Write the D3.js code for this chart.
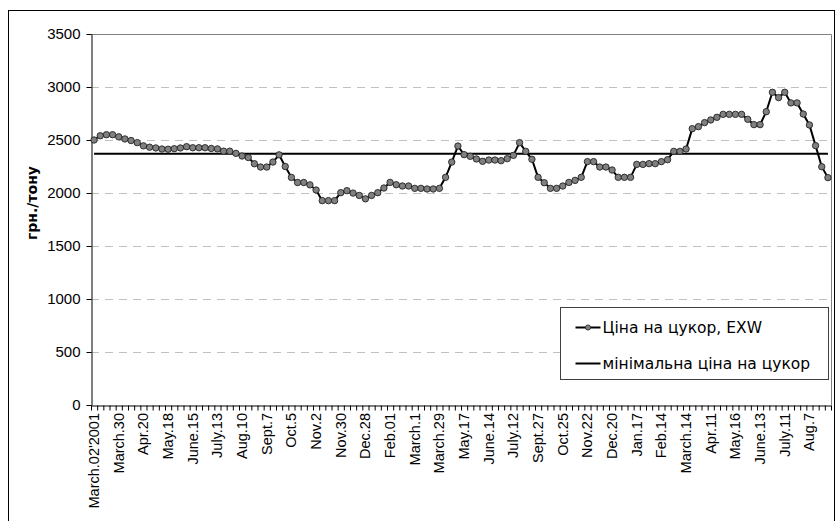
<!DOCTYPE html>
<html>
<head>
<meta charset="utf-8">
<script src="https://cdn.jsdelivr.net/npm/d3@7"></script>
<style>
  body { margin: 0; background: #fff; }
  svg { display: block; }
</style>
</head>
<body>
<div id="chart"></div>
<script>
// weekly sugar price, EXW (грн./тону), 120 weeks
const priceValues = [
  2500, 2540, 2550, 2550, 2530, 2510, 2495, 2475, 2445, 2432,
  2425, 2415, 2413, 2418, 2425, 2437, 2427, 2427, 2427, 2420,
  2416, 2395, 2394, 2374, 2349, 2335, 2276, 2245, 2245, 2292,
  2360, 2250, 2147, 2099, 2099, 2077, 2028, 1928, 1928, 1928,
  2003, 2022, 1999, 1977, 1945, 1977, 2003, 2047, 2100, 2078,
  2066, 2066, 2044, 2044, 2038, 2038, 2044, 2148, 2292, 2443,
  2362, 2346, 2321, 2299, 2311, 2311, 2305, 2324, 2355, 2475,
  2393, 2318, 2148, 2097, 2044, 2044, 2066, 2100, 2119, 2148,
  2296, 2296, 2245, 2245, 2217, 2148, 2148, 2148, 2270, 2270,
  2277, 2277, 2296, 2314, 2393, 2393, 2415, 2607, 2626, 2664,
  2689, 2714, 2742, 2742, 2742, 2742, 2695, 2645, 2645, 2767,
  2950, 2900, 2950, 2850, 2850, 2745, 2642, 2447, 2248, 2145
];
const minPrice = 2370;

// every 4th week is labelled
const tickLabels = [
  "March.02'2001", "March.30", "Apr.20", "May.18", "June.15", "July.13",
  "Aug.10", "Sept.7", "Oct.5", "Nov.2", "Nov.30", "Dec.28", "Feb.01",
  "March.1", "March.29", "May.17", "June.14", "July.12", "Sept.27",
  "Oct.25", "Nov.22", "Dec.20", "Jan.17", "Feb.14", "March.14", "Apr.11",
  "May.16", "June.13", "July.11", "Aug.7"
];
const yTicks = [0, 500, 1000, 1500, 2000, 2500, 3000, 3500];

const seriesNames = ["Ціна на цукор, EXW", "мінімальна ціна на цукор"];

const W = 836, H = 521;
const plot = { left: 91, right: 831, top: 34, bottom: 405 };
const LABEL_FONT = "'Liberation Sans', Arial, sans-serif";
const LEGEND_FONT = "'DejaVu Sans', Verdana, sans-serif";

const svg = d3.select("#chart").append("svg")
  .attr("width", W).attr("height", H);

// outer chart border
svg.append("rect")
  .attr("x", 8.5).attr("y", 10.5)
  .attr("width", 826).attr("height", 530)
  .attr("fill", "#fff").attr("stroke", "#000").attr("stroke-width", 1);

const n = priceValues.length;
const x = d3.scaleBand().domain(d3.range(n)).range([plot.left, plot.right]).padding(0);
const xEdge = d3.scaleLinear().domain([0, n]).range([plot.left, plot.right]);
const y = d3.scaleLinear().domain([0, 3500]).range([plot.bottom, plot.top]);
const cx = i => x(i) + x.bandwidth() / 2;

// plot area frame (top/right grey)
svg.append("path")
  .attr("d", `M${plot.left},${y(3500) + 0.5}H${plot.right + 0.5}V${plot.bottom}`)
  .attr("fill", "none").attr("stroke", "#808080").attr("stroke-width", 1);

// gridlines
svg.append("g")
  .selectAll("line")
  .data(yTicks.filter(v => v > 0 && v < 3500))
  .join("line")
  .attr("x1", plot.left).attr("x2", plot.right)
  .attr("y1", d => Math.round(y(d)) + 0.5).attr("y2", d => Math.round(y(d)) + 0.5)
  .attr("stroke", "#c0c0c0").attr("stroke-dasharray", "8,6");

// y axis
svg.append("g")
  .attr("transform", `translate(${plot.left + 0.5},0)`)
  .call(d3.axisLeft(y).tickValues(yTicks).tickFormat(d3.format("d"))
    .tickSize(5).tickPadding(6).tickSizeOuter(0))
  .call(g => g.select(".domain").attr("stroke", "#000"))
  .call(g => g.selectAll("line").attr("stroke", "#000"))
  .call(g => g.selectAll("text")
    .attr("font-family", LABEL_FONT).attr("font-size", "15px").attr("fill", "#000"));

// x axis: tick at every category boundary
svg.append("g")
  .attr("transform", `translate(0,${plot.bottom + 0.5})`)
  .call(d3.axisBottom(xEdge).tickValues(d3.range(n + 1)).tickFormat("").tickSize(5).tickSizeOuter(0))
  .call(g => g.select(".domain").attr("stroke", "#000"))
  .call(g => g.selectAll("line").attr("stroke", "#000"));

// x labels, rotated
svg.append("g")
  .selectAll("text")
  .data(tickLabels)
  .join("text")
  .attr("transform", (d, i) => `translate(${cx(i * 4)},${plot.bottom + 8}) rotate(-90)`)
  .attr("dy", "0.35em")
  .attr("text-anchor", "end")
  .attr("font-family", LABEL_FONT).attr("font-size", "14.5px")
  .text(d => d);

// y title
svg.append("text")
  .attr("transform", `translate(32,203) rotate(-90)`)
  .attr("dy", "0.35em")
  .attr("text-anchor", "middle")
  .attr("font-family", LEGEND_FONT).attr("font-weight", "bold").attr("font-size", "14px")
  .text("грн./тону");

// minimum price line
svg.append("path")
  .datum(priceValues.map(() => minPrice))
  .attr("fill", "none").attr("stroke", "#000").attr("stroke-width", 2)
  .attr("d", d3.line().x((d, i) => cx(i)).y(d => y(d)));

// price series
svg.append("path")
  .datum(priceValues)
  .attr("fill", "none").attr("stroke", "#000").attr("stroke-width", 2)
  .attr("d", d3.line().x((d, i) => cx(i)).y(d => y(d)));

svg.append("g")
  .selectAll("circle")
  .data(priceValues)
  .join("circle")
  .attr("cx", (d, i) => cx(i)).attr("cy", d => y(d))
  .attr("r", 3.2)
  .attr("fill", "#808080").attr("stroke", "#222").attr("stroke-width", 0.9);

// legend
const lg = svg.append("g").attr("transform", "translate(560.5,307.5)");
lg.append("rect")
  .attr("width", 268).attr("height", 72)
  .attr("fill", "#fff").attr("stroke", "#404040");

seriesNames.forEach((name, i) => {
  const ly = 20 + i * 36;
  lg.append("line")
    .attr("x1", 15).attr("x2", 40).attr("y1", ly).attr("y2", ly)
    .attr("stroke", "#000").attr("stroke-width", 2);
  if (i === 0) {
    lg.append("circle").attr("cx", 27.5).attr("cy", ly).attr("r", 2.6)
      .attr("fill", "#808080").attr("stroke", "#222").attr("stroke-width", 0.8);
  }
  lg.append("text")
    .attr("x", 42).attr("y", ly).attr("dy", "0.35em")
    .attr("font-family", LEGEND_FONT).attr("font-size", "15.5px")
    .text(name);
});
</script>
</body>
</html>
